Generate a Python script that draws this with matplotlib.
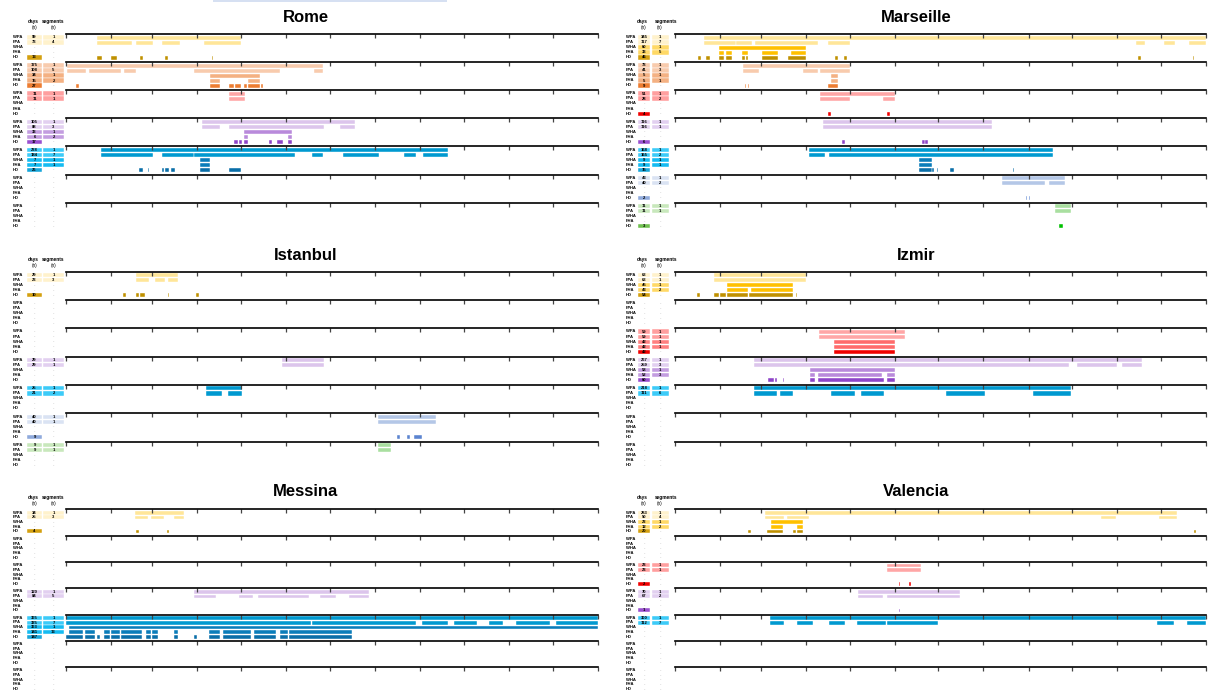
import matplotlib
matplotlib.use("Agg")
import matplotlib.pyplot as plt
import matplotlib.transforms as mtransforms
from matplotlib.patches import Rectangle

plt.rcParams['font.family'] = ['Liberation Sans', 'DejaVu Sans']

ROWS = ['WPA', 'FPA', 'WHA', 'FHA', 'HD']
MONTH_START = [0, 31, 59, 90, 120, 151, 181, 212, 243, 273, 304, 334, 365]

# bar colours per group: WPA/FPA, WHA/FHA, HD
BAR_COLORS = [
    ('#FFE699', '#FFC000', '#BF9000'),
    ('#F8CBAD', '#F4B183', '#ED7D31'),
    ('#FFA6A6', '#FF6B6B', '#F00000'),
    ('#DCC5EC', '#B98ADB', '#8E44C8'),
    ('#0099D0', '#0A7DBA', '#0A6EA8'),
    ('#B4C7E7', '#8FAADC', '#5B84D0'),
    ('#A9DFA0', '#7CCB6E', '#00C000'),
]
# table box colours per group: WPA/FPA, WHA/FHA, HD
BOX_COLORS = [
    ('#FFF2CC', '#FFD966', '#D4A00F'),
    ('#F8CBAD', '#F4B183', '#ED7D31'),
    ('#FF9F9F', '#FF8080', '#F00000'),
    ('#E2D0F0', '#C39DE0', '#9A50D0'),
    ('#3CCBF8', '#14BBF2', '#18A6DA'),
    ('#DAE3F3', '#B4C7E7', '#8FAADC'),
    ('#C8E8BC', '#A9D18E', '#70C050'),
]

# day-of-year segments (start, end) per indicator row
rome_yellow = {'WPA': [(21, 120)],
               'FPA': [(21, 45), (48, 60), (66, 78), (95, 120)],
               'HD': [(21, 25), (31, 35), (51, 53), (68, 70), (100, 101)]}
rome_orange = {'WPA': [(1, 176)],
               'FPA': [(1, 14), (16, 38), (40, 48), (88, 147), (170, 176)],
               'WHA': [(99, 133)],
               'FHA': [(99, 106), (125, 133)],
               'HD': [(7, 9), (99, 106), (112, 115), (116, 120), (122, 124), (125, 133), (134, 135)]}
rome_red = {'WPA': [(112, 123)],
            'FPA': [(112, 123)]}
rome_purple = {'WPA': [(93, 198)],
               'FPA': [(93, 106), (112, 177), (188, 198)],
               'WHA': [(122, 155)],
               'FHA': [(122, 125), (152, 155)],
               'HD': [(115, 118), (119, 121), (122, 125), (139, 141), (145, 149), (152, 155)]}
rome_blue = {'WPA': [(24, 262)],
             'FPA': [(24, 60), (66, 88), (88, 157), (169, 176), (190, 215), (232, 240), (245, 262)],
             'WHA': [(92, 99)],
             'FHA': [(92, 99)],
             'HD': [(50, 53), (56, 57), (66, 67), (68, 71), (72, 75), (92, 99), (112, 120)]}

marseille_yellow = {'WPA': [(20, 365)],
                    'FPA': [(20, 42), (42, 53), (55, 98), (105, 120), (317, 323), (336, 344), (353, 365)],
                    'WHA': [(30, 90)],
                    'FHA': [(30, 34), (35, 39), (46, 50), (60, 71), (80, 90)],
                    'HD': [(16, 18), (21, 24), (30, 34), (35, 39), (46, 48), (49, 50), (60, 71),
                           (78, 90), (110, 112), (116, 118), (318, 320), (356, 357)]}
marseille_orange = {'WPA': [(47, 120)],
                    'FPA': [(47, 58), (88, 98), (100, 120)],
                    'WHA': [(107, 112)],
                    'FHA': [(107, 112)],
                    'HD': [(48, 49), (50, 51), (105, 112)]}
marseille_red = {'WPA': [(100, 151)],
                 'FPA': [(100, 120), (143, 151)],
                 'HD': [(105, 107), (146, 148)]}
marseille_purple = {'WPA': [(102, 218)],
                    'FPA': [(102, 218)],
                    'HD': [(115, 117), (170, 172), (172, 174)]}
marseille_blue = {'WPA': [(92, 260)],
                  'FPA': [(92, 103), (106, 260)],
                  'WHA': [(168, 177)],
                  'FHA': [(168, 177)],
                  'HD': [(168, 177), (177, 178), (180, 181), (189, 192), (232, 233)]}
marseille_steel = {'WPA': [(225, 268)],
                   'FPA': [(225, 254), (257, 268)],
                   'HD': [(241, 242), (243, 244)]}
marseille_green = {'WPA': [(261, 272)],
                   'FPA': [(261, 272)],
                   'HD': [(264, 267)]}

istanbul_yellow = {'WPA': [(48, 77)],
                   'FPA': [(48, 57), (61, 68), (70, 77)],
                   'HD': [(39, 41), (48, 50), (51, 54), (70, 71), (89, 91)]}
istanbul_purple = {'WPA': [(148, 177)],
                   'FPA': [(148, 177)]}
istanbul_blue = {'WPA': [(96, 121)],
                 'FPA': [(96, 107), (111, 121)]}
istanbul_steel = {'WPA': [(214, 254)],
                  'FPA': [(214, 254)],
                  'HD': [(227, 229), (234, 236), (239, 244)]}
istanbul_green = {'WPA': [(214, 223)],
                  'FPA': [(214, 223)]}

izmir_yellow = {'WPA': [(27, 90)],
                'FPA': [(27, 90)],
                'WHA': [(36, 81)],
                'FHA': [(36, 50), (52, 81)],
                'HD': [(15, 17), (27, 30), (31, 35), (36, 50), (51, 81), (83, 84)]}
izmir_red = {'WPA': [(99, 158)],
             'FPA': [(99, 158)],
             'WHA': [(109, 151)],
             'FHA': [(109, 151)],
             'HD': [(109, 151)]}
izmir_purple = {'WPA': [(54, 321)],
                'FPA': [(54, 271), (276, 304), (307, 321)],
                'WHA': [(93, 151)],
                'FHA': [(93, 96), (98, 142), (146, 151)],
                'HD': [(64, 68), (69, 70), (74, 75), (93, 96), (98, 144), (146, 151)]}
izmir_blue = {'WPA': [(54, 272)],
              'FPA': [(54, 70), (72, 81), (107, 124), (128, 144), (186, 213), (246, 272)]}

messina_yellow = {'WPA': [(47, 81)],
                  'FPA': [(47, 56), (58, 67), (74, 81)],
                  'HD': [(48, 50), (69, 71)]}
messina_purple = {'WPA': [(88, 208)],
                  'FPA': [(88, 103), (119, 128), (132, 167), (174, 185), (194, 208)]}
messina_blue = {'WPA': [(0, 365)],
                'FPA': [(0, 168), (169, 240), (244, 262), (266, 282), (290, 300), (309, 332), (336, 365)],
                'WHA': [(2, 365)],
                'FHA': [(2, 12), (13, 20), (26, 30), (31, 37), (38, 52), (55, 58), (59, 63),
                        (74, 77), (98, 106), (108, 127), (129, 144), (147, 152), (153, 196)],
                'HD': [(0, 12), (13, 20), (21, 23), (26, 30), (31, 37), (38, 52), (55, 58), (59, 63),
                       (74, 77), (88, 90), (98, 106), (108, 127), (129, 144), (147, 152), (153, 196)]}

valencia_yellow = {'WPA': [(62, 345)],
                   'FPA': [(62, 75), (77, 92), (293, 303), (333, 345)],
                   'WHA': [(66, 88)],
                   'FHA': [(66, 74), (84, 88)],
                   'HD': [(50, 52), (63, 74), (81, 83), (84, 88), (357, 358)]}
valencia_red = {'WPA': [(146, 169)],
                'FPA': [(146, 169)],
                'HD': [(154, 155), (161, 162)]}
valencia_purple = {'WPA': [(126, 196)],
                   'FPA': [(126, 143), (146, 196)],
                   'HD': [(154, 155)]}
valencia_blue = {'WPA': [(65, 365)],
                 'FPA': [(65, 75), (84, 95), (106, 117), (125, 145), (146, 181), (331, 343), (352, 365)]}

CITIES = [
    ('Rome', [rome_yellow, rome_orange, rome_red, rome_purple, rome_blue, {}, {}]),
    ('Marseille', [marseille_yellow, marseille_orange, marseille_red, marseille_purple,
                   marseille_blue, marseille_steel, marseille_green]),
    ('Istanbul', [istanbul_yellow, {}, {}, istanbul_purple, istanbul_blue, istanbul_steel, istanbul_green]),
    ('Izmir', [izmir_yellow, {}, izmir_red, izmir_purple, izmir_blue, {}, {}]),
    ('Messina', [messina_yellow, {}, {}, messina_purple, messina_blue, {}, {}]),
    ('Valencia', [valencia_yellow, {}, valencia_red, valencia_purple, valencia_blue, {}, {}]),
]

W, H = 1209, 693
fig = plt.figure(figsize=(W / 100, H / 100), dpi=100, facecolor='white')

# panel geometry in pixels: (axis left, axis right), (first line y, group height, title y)
COL_X = [(66, 598), (675, 1206)]
ROW_Y = [(34, 28.1, 18), (271.5, 28.35, 255), (509.5, 26.3, 492)]
# table offsets from axis left: label x, days centre/width, segments centre/width,
# then header centres for "days" and "segments"
TABLE = [(-53, -31.5, 15, -12.5, 21, -33, -13), (-49, -31, 12, -15, 17, -33, -9)]

# remnant of a legend box along the top edge
fig.patches.append(Rectangle((213 / W, 1 - 2 / H), 234 / W, 2 / H, transform=fig.transFigure,
                             facecolor='#D6E0F2', edgecolor='none'))

for n, (city, groups) in enumerate(CITIES):
    r, c = divmod(n, 2)
    x0, x1 = COL_X[c]
    top, gh, title_y = ROW_Y[r]
    lab_off, d_c, d_w, s_c, s_w, hd_c, hs_c = TABLE[c]

    fig.text((x0 + lab_off + x1) / 2 / W, 1 - title_y / H, city, fontsize=12,
             fontweight='bold', ha='center', va='center')
    for cx, word in [(hd_c, 'days'), (hs_c, 'segments')]:
        fig.text((x0 + cx) / W, 1 - (top - 12) / H, word, fontsize=3.4, fontweight='bold',
                 ha='center', va='center')
    for cx in [d_c, s_c]:
        fig.text((x0 + cx) / W, 1 - (top - 6) / H, '(n)', fontsize=3.4, ha='center', va='center')

    for k, data in enumerate(groups):
        ax = fig.add_axes([x0 / W, 1 - (top + (k + 1) * gh) / H, (x1 - x0) / W, gh / H])
        ax.set_xlim(0, 365)
        ax.set_ylim(5.6, 0)
        ax.patch.set_alpha(0)
        for side in ['bottom', 'left', 'right']:
            ax.spines[side].set_visible(False)
        ax.spines['top'].set_linewidth(1.2)
        ax.set_xticks(MONTH_START)
        ax.set_yticks([])
        ax.tick_params(axis='x', top=True, bottom=False, labeltop=False, labelbottom=False,
                       direction='in', length=2.8, width=0.9, color='#444444')

        trans = mtransforms.blended_transform_factory(fig.transFigure, ax.transData)
        light, mid, dark = BAR_COLORS[k]
        b_light, b_mid, b_dark = BOX_COLORS[k]
        for i, row in enumerate(ROWS):
            segs = data.get(row, [])
            bar_col = light if i < 2 else (mid if i < 4 else dark)
            box_col = b_light if i < 2 else (b_mid if i < 4 else b_dark)
            if segs:
                ax.broken_barh([(a, b - a) for a, b in segs], (i + 0.3, 0.8),
                               facecolors=bar_col, edgecolor='white', linewidth=0.3)

            ax.text((x0 + lab_off) / W, i + 0.65, row, transform=trans, fontsize=3,
                    fontweight='bold', ha='left', va='center')
            days = sum(b - a for a, b in segs)
            cells = [(d_c, d_w, str(days) if segs else None)]
            cells.append((s_c, s_w, str(len(segs)) if segs and row != 'HD' else None))
            for cx, cw, txt in cells:
                if txt is None:
                    ax.text((x0 + cx) / W, i + 0.65, '-', transform=trans, fontsize=3,
                            color='#999999', ha='center', va='center')
                    continue
                ax.add_patch(Rectangle(((x0 + cx - cw / 2) / W, i + 0.25), cw / W, 0.85,
                                       transform=trans, facecolor=box_col, edgecolor='white',
                                       linewidth=0.3, clip_on=False))
                ax.text((x0 + cx) / W, i + 0.67, txt, transform=trans, fontsize=3,
                        fontweight='bold', ha='center', va='center')

fig.savefig('out.png', dpi=100)
